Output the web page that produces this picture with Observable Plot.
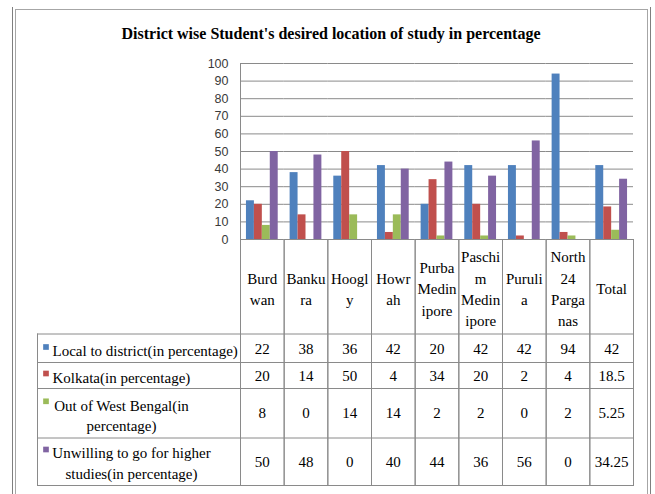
<!DOCTYPE html>
<html>
<head>
<meta charset="utf-8">
<script src="https://cdn.jsdelivr.net/npm/d3@7"></script>
<script src="https://cdn.jsdelivr.net/npm/@observablehq/plot@0.6"></script>
<style>
  html, body { margin: 0; padding: 0; background: #fff; }
  #chart svg { display: block; }
</style>
</head>
<body>
<div id="chart"></div>
<script>
// ---- data ----
const chartTitle = "District wise Student's desired location of study in percentage";
const districts = ["Burdwan", "Bankura", "Hoogly", "Howrah", "Purba Medinipore", "Paschim Medinipore", "Puruliya", "North 24 Parganas", "Total"];
const districtLabels = ["Burd\nwan", "Banku\nra", "Hoogl\ny", "Howr\nah", "Purba\nMedin\nipore", "Paschi\nm\nMedin\nipore", "Puruli\na", "North\n24\nParga\nnas", "Total"];
const seriesNames = ["Local to district(in percentage)", "Kolkata(in percentage)", "Out of West Bengal(in percentage)", "Unwilling to go for higher studies(in percentage)"];
const seriesLabels = ["Local to district(in percentage)", "Kolkata(in percentage)", "Out of West Bengal(in\npercentage)", "Unwilling to go for higher\nstudies(in percentage)"];
const localToDistrict = [22, 38, 36, 42, 20, 42, 42, 94, 42];
const kolkata = [20, 14, 50, 4, 34, 20, 2, 4, 18.5];
const outOfWestBengal = [8, 0, 14, 14, 2, 2, 0, 2, 5.25];
const unwillingHigherStudies = [50, 48, 0, 40, 44, 36, 56, 0, 34.25];
const yTicks = [0, 10, 20, 30, 40, 50, 60, 70, 80, 90, 100];

// ---- styles / layout ----
const seriesColors = ["#4F81BD", "#C0504D", "#9BBB59", "#8064A2"];
const W = 655, H = 494;
const frameLeft = 240, frameRight = 633, frameTop = 63, frameBottom = 239;
const tableLeft = 37, tableBottom = 485;
const headerBottom = 333.5;
const rowEdges = [333.5, 362, 388, 437.5, 485];          // horizontal table lines (px)
const cellCenters = [349, 375.5, 413, 462];              // value text centres (px)
const labelCenters = [349, 375.5, 414, 461.5];           // legend label centres (px)
const labelAnchorX = [52, 52, 121, 131];
const labelTextAnchor = ["start", "start", "middle", "middle"];
const swatchY = [346.5, 373, 400.8, 449];
const swatchX = 45.5;
const headerCenter = 287;
const gridColor = "#8a8a8a";
const serif = "'Liberation Serif', 'Times New Roman', serif";
const sans = "'Liberation Sans', Arial, sans-serif";

const seriesValues = [localToDistrict, kolkata, outOfWestBengal, unwillingHigherStudies];
const rows = districts.flatMap((d, i) => seriesNames.map((s, j) => ({district: d, series: s, value: seriesValues[j][i]})));

const marks = [
  // outer decorative frame
  Plot.frame({facet: "super", stroke: "#a6a6a6", insetLeft: 15 - frameLeft, insetTop: 9 - frameTop, insetRight: frameRight - 647, insetBottom: frameBottom - 520}),
  Plot.frame({facet: "super", anchor: "left", stroke: "#7f7f7f", insetLeft: 12 - frameLeft, insetTop: 7 - frameTop, insetBottom: frameBottom - 520}),
  Plot.frame({facet: "super", anchor: "right", stroke: "#7f7f7f", insetRight: frameRight - 650, insetTop: 7 - frameTop, insetBottom: frameBottom - 520}),
  // title
  Plot.text([chartTitle], {facet: "super", frameAnchor: "top-left", dx: 330.5 - frameLeft, dy: 33 - frameTop, text: d => d,
    fontSize: 16, fontWeight: "bold", fontFamily: serif, fill: "#000", textAnchor: "middle", lineAnchor: "middle"}),
  // gridlines and axis
  Plot.gridY(yTicks, {stroke: gridColor, strokeOpacity: 1}),
  Plot.axisY(yTicks, {tickSize: 0, tickPadding: 12, fontSize: 12.5, fontFamily: sans, fill: "#3a3a3a", label: null}),
  // bars
  Plot.barY(rows, {fx: "district", x: "series", y: "value", fill: "series"}),
  // y axis line continuing into table
  Plot.frame({facet: "super", anchor: "left", stroke: gridColor, insetBottom: frameBottom - tableBottom}),
  // table vertical lines per category column
  Plot.frame({anchor: "left", stroke: gridColor, insetTop: frameBottom - frameTop, insetBottom: frameBottom - tableBottom}),
  Plot.frame({anchor: "right", stroke: gridColor, insetTop: frameBottom - frameTop, insetBottom: frameBottom - tableBottom}),
  // table left border
  Plot.frame({facet: "super", anchor: "left", stroke: gridColor, insetLeft: tableLeft - frameLeft, insetTop: headerBottom - frameTop, insetBottom: frameBottom - tableBottom}),
  // table horizontal lines
  ...rowEdges.map(e => Plot.frame({facet: "super", anchor: "bottom", insetBottom: frameBottom - e, insetLeft: tableLeft - frameLeft, stroke: gridColor})),
  // column headers
  Plot.text(districts, {fx: d => d, text: (d, i) => districtLabels[i], frameAnchor: "bottom", dy: headerCenter - frameBottom,
    lineAnchor: "middle", lineHeight: 1.42, fontSize: 15, fontFamily: serif, fill: "#000"}),
  // cell values
  ...seriesNames.map((s, j) => Plot.text(rows.filter(r => r.series === s), {fx: "district", text: r => String(r.value),
    frameAnchor: "bottom", dy: cellCenters[j] - frameBottom, lineAnchor: "middle", fontSize: 15, fontFamily: serif, fill: "#000"})),
  // legend swatches
  ...seriesNames.map((s, j) => Plot.dot([s], {facet: "super", frameAnchor: "bottom-left", dx: swatchX - frameLeft, dy: swatchY[j] - frameBottom,
    symbol: "square", r: 3.2, fill: d => d})),
  // legend labels
  ...seriesNames.map((s, j) => Plot.text([seriesLabels[j]], {facet: "super", frameAnchor: "bottom-left", dx: labelAnchorX[j] - frameLeft, dy: labelCenters[j] - frameBottom,
    text: d => d, textAnchor: labelTextAnchor[j], lineAnchor: "middle", lineHeight: 1.38, fontSize: 15, fontFamily: serif, fill: "#000"}))
];

const chart = Plot.plot({
  width: W,
  height: H,
  marginLeft: frameLeft,
  marginRight: W - frameRight,
  marginTop: frameTop,
  marginBottom: H - frameBottom,
  style: {fontFamily: serif, fontSize: "15px", background: "#fff", color: "#000"},
  fx: {domain: districts, padding: 0, round: false, axis: null},
  x: {domain: seriesNames, paddingInner: 0, paddingOuter: 0.75, round: false, axis: null},
  y: {domain: [0, 100], axis: null},
  color: {domain: seriesNames, range: seriesColors},
  marks
});
document.getElementById("chart").appendChild(chart);
</script>
</body>
</html>
